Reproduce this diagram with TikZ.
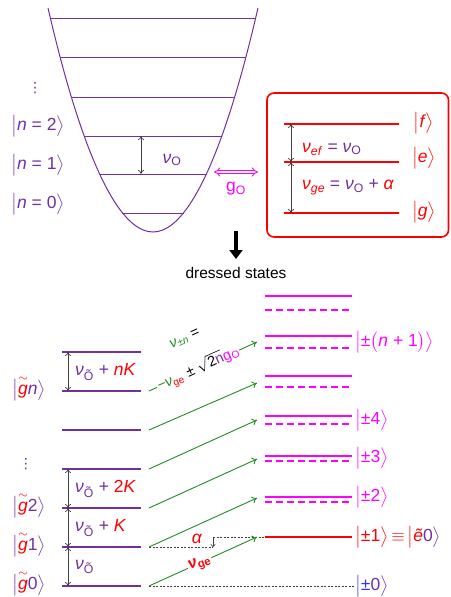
\documentclass[tikz,border=0pt]{standalone}
\usepackage{amsmath}
\usepackage{fontspec}
\setmainfont{Liberation Sans}
\newfontfamily\dejavu{DejaVu Sans}
\usetikzlibrary{arrows.meta}
\definecolor{purp}{HTML}{7030A0}
\definecolor{grn}{HTML}{228B22}
\definecolor{mag}{HTML}{FF00FF}
\definecolor{rd}{HTML}{FF0000}
\definecolor{blu}{HTML}{3333FF}
\definecolor{gry}{HTML}{404040}
\newcommand{\kL}{\ensuremath{\bigl|}}
\newcommand{\kR}{\ensuremath{\bigr\rangle}}
\newcommand{\gtil}{\ensuremath{\overset{\scriptstyle\sim}{\mbox{\itshape g}}}}
\newcommand{\nuO}{\textit{ν}\textsubscript{O}}
\newcommand{\nuOt}{\textit{ν}\textsubscript{Õ}}
\newcommand{\vdt}{{\dejavu\fontsize{14}{14}\selectfont ⋮}}
\tikzset{
  every node/.style={font=\fontsize{17.5}{20}\selectfont, inner sep=1pt},
  toplevel/.style={purp, line width=0.9pt},
  leftlevel/.style={purp, line width=2.2pt},
  rlevel/.style={mag, line width=2pt},
  rdash/.style={mag, line width=1.6pt, dash pattern=on 7pt off 4pt},
  gap/.style={gry, line width=0.7pt, {To[length=4pt,width=6pt]}-{To[length=4pt,width=6pt]}},
  garrow/.style={grn, line width=0.9pt, -{To[length=5pt,width=7pt]}},
  dots/.style={gry, line width=0.7pt, dash pattern=on 2pt off 1.5pt},
}
\begin{document}
\begin{tikzpicture}[x=1pt,y=-1pt]
\useasboundingbox (0,0) rectangle (450,597);

% ---------- oscillator ----------
\draw[purp, line width=1pt] (48,8) parabola bend (153,232) (258,8);
\foreach \y in {18,57,97,136,174,213}
  \draw[toplevel] ({153-sqrt((232-\y)/0.02032)},\y) -- ({153+sqrt((232-\y)/0.02032)},\y);
\coordinate (o1) at (141,136);
\coordinate (o0) at (141,174);
\draw[gap] (o1) -- (o0);
\node[purp] (nuo) at (172,160) {\nuO};

\node[purp] (vd1) at (35,88) {\vdt};
\node[purp] (n2) at (38,126) {\kL\textit{n} = 2\kR};
\node[purp] (n1) at (38,165) {\kL\textit{n} = 1\kR};
\node[purp] (n0) at (38,204) {\kL\textit{n} = 0\kR};

% coupling
\coordinate (ga) at (214,172);
\coordinate (gb) at (258,172);
\draw[mag, double, double distance=2.2pt, line width=0.9pt, {Implies}-{Implies}] (ga) -- (gb);
\node[mag] (go) at (236,189) {g\textsubscript{O}};

% ---------- qutrit box ----------
\draw[rd, line width=1.6pt, rounded corners=7pt] (267,93) rectangle (448.5,237);
\draw[rd, line width=1.6pt] (284,124) -- (399,124);
\draw[rd, line width=1.6pt] (284,162) -- (399,162);
\draw[rd, line width=1.6pt] (284,213) -- (399,213);
\coordinate (qf) at (291,124);
\coordinate (qe) at (291,162);
\coordinate (qg) at (291,213);
\draw[gap] (qf) -- (qe);
\draw[gap] (qe) -- (qg);
\node[anchor=west] (nef) at (301,149) {\textcolor{rd}{\textit{ν}\textsubscript{\textit{ef}}} \textcolor{purp}{= \nuO}};
\node[anchor=west] (nge) at (301,187) {\textcolor{rd}{\textit{ν}\textsubscript{\textit{ge}}} \textcolor{purp}{= \nuO{} +} \textcolor{rd}{\textit{α}}};
\node[rd] (kf) at (424,123) {\kL\textit{f}\kR};
\node[rd] (ke) at (424,158) {\kL\textit{e}\kR};
\node[rd] (kg) at (424,212) {\kL\textit{g}\kR};

% ---------- dressed states ----------
\coordinate (da) at (236,231);
\coordinate (db) at (236,259);
\draw[line width=4pt, -{Triangle[length=9pt,width=13pt]}] (da) -- (db);
\node (dr) at (236,273) {\fontsize{15.5}{17}\selectfont dressed states};

% left ladder
\foreach \y/\nm in {352/La,391/Lb,430/Lc,469/Ld,508/Le,547/Lf,586/Lg}{
  \draw[leftlevel] (62,\y) -- (141,\y);
  \coordinate (\nm) at (149,\y);
  \coordinate (\nm x) at (68,\y);
}
\draw[gap] (Lax) -- (Lbx);
\draw[gap] (Ldx) -- (Lex);
\draw[gap] (Lex) -- (Lfx);
\draw[gap] (Lfx) -- (Lgx);
\node[anchor=west] (tn) at (74,372) {\textcolor{purp}{\nuOt{} +} \textcolor{rd}{\textit{nK}}};
\node[anchor=west] (t2) at (74,489) {\textcolor{purp}{\nuOt{} +} \textcolor{rd}{2\textit{K}}};
\node[anchor=west] (t1) at (74,528) {\textcolor{purp}{\nuOt{} +} \textcolor{rd}{\textit{K}}};
\node[anchor=west] (t0) at (74,567) {\textcolor{purp}{\nuOt}};

\node (gn) at (29,388) {\textcolor{purp}{\kL}\textcolor{rd}{\gtil}\textcolor{purp}{\textit{n}\kR}};
\node[purp] (vd2) at (26,464) {\vdt};
\node (g2) at (29,505) {\textcolor{purp}{\kL}\textcolor{rd}{\gtil}\textcolor{purp}{2\kR}};
\node (g1) at (29,544) {\textcolor{purp}{\kL}\textcolor{rd}{\gtil}\textcolor{purp}{1\kR}};
\node (g0) at (29,583) {\textcolor{purp}{\kL}\textcolor{rd}{\gtil}\textcolor{purp}{0\kR}};

% right ladder
\foreach \ys/\yd in {296/310,336/348,376/387,416/424,456/461,497/502}{
  \draw[rlevel] (265,\ys) -- (352,\ys);
  \draw[rdash] (265,\yd) -- (352,\yd);
}
\draw[rd, line width=2pt] (265,537) -- (352,537);
\foreach \y/\nm in {537/Ra,498/Rb,459/Rc,420/Rd,383/Re,342/Rf}
  \coordinate (\nm) at (257,\y);

\node[mag, anchor=west] (kn) at (354,342) {\kL±\ensuremath{\bigl(}\textit{n} + 1\ensuremath{\bigr)}\kR};
\node[mag, anchor=west] (k4) at (354,420) {\kL±4\kR};
\node[mag, anchor=west] (k3) at (354,458) {\kL±3\kR};
\node[mag, anchor=west] (k2) at (354,497) {\kL±2\kR};
\node[anchor=west] (k1) at (354,537) {\textcolor{rd}{\kL±1\kR\,\ensuremath{\equiv}\,\kL\textit{ẽ}}\textcolor{purp}{0\kR}};
\node[anchor=west] (k0) at (354,586) {\textcolor{blu}{\kL±}\textcolor{purp}{0\kR}};

% dotted references
\coordinate (dg) at (355,586);
\coordinate (dm) at (213,547);
\coordinate (dn) at (213,537);
\coordinate (dq) at (265,537);
\draw[dots] (Lg) -- (dg);
\draw[dots] (Lf) -- (dm);
\draw[dots] (dn) -- (dq);
\draw[gry, line width=0.6pt, -{To[length=3pt,width=5pt]}] (dn) -- (dm);
\node[rd] (al) at (197,539) {\textit{α}};

% green transitions
\draw[garrow] (Lg) -- (Ra);
\draw[garrow] (Lf) -- (Rb);
\draw[garrow] (Le) -- (Rc);
\draw[garrow] (Ld) -- (Rd);
\draw[garrow] (Lc) -- (Re);
\draw[garrow] (Lb) -- (Rf);

\node[rd, fill=white, rotate=22, inner sep=1.5pt] (lge) at (200,564) {\fontsize{16}{16}\selectfont\bfseries\textit{ν}\textsubscript{ge}};
\node[fill=white, rotate=24.4, inner sep=1pt] (l2) at (198,368.5)
  {\fontsize{14.5}{14.5}\selectfont\textcolor{grn}{−\textit{ν}}\textcolor{rd}{\textsubscript{ge}} ± \ensuremath{\sqrt{\mbox{2\textcolor{purp}{n}}}}\textcolor{mag}{g\textsubscript{O}}};
\node[rotate=24.4, inner sep=1pt] (l1) at (185,339)
  {\fontsize{14.5}{14.5}\selectfont\textcolor{grn}{\textit{ν}\textsubscript{±\textit{n}}} =};
\end{tikzpicture}
\end{document}
